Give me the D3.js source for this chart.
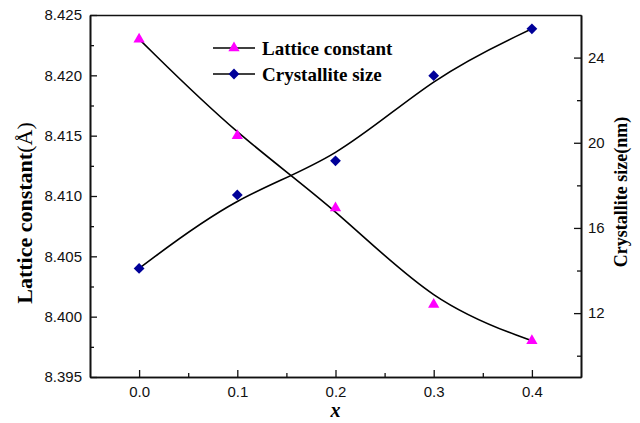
<!DOCTYPE html>
<html>
<head>
<meta charset="utf-8">
<script src="https://cdn.jsdelivr.net/npm/d3@7"></script>
<style>
  body { margin: 0; background: #fff; }
  .tick text { font-family: Arial, "Liberation Sans", sans-serif; font-size: 15px; fill: #111; }
  .axis path, .axis line { stroke: #111; }
  .serif { font-family: "Times New Roman", "Liberation Serif", serif; font-weight: bold; fill: #000; }
</style>
</head>
<body>
<div id="chart"></div>
<script>
// data
const xVals = [0.0, 0.1, 0.2, 0.3, 0.4];
const latticeConst = [8.423, 8.415, 8.409, 8.401, 8.398];
const crystalSize = [14.1, 17.55, 19.15, 23.15, 25.35];

const xTicks = [0.0, 0.1, 0.2, 0.3, 0.4];
const xMinor = [0.05, 0.15, 0.25, 0.35];
const leftTicks = [8.395, 8.400, 8.405, 8.410, 8.415, 8.420, 8.425];
const leftMinor = [8.3975, 8.4025, 8.4075, 8.4125, 8.4175, 8.4225];
const rightTicks = [12, 16, 20, 24];
const rightMinor = [10, 14, 18, 22];

const w = 640, h = 423;
const pLeft = 90, pRight = 581, pTop = 15, pBottom = 377;

const svg = d3.select("#chart").append("svg")
  .attr("width", w).attr("height", h);

// scales
const x = d3.scaleLinear().domain([-0.05, 0.45]).range([pLeft, pRight]);
const yL = d3.scaleLinear().domain([8.395, 8.425]).range([pBottom, pTop]);
const yR = d3.scaleLinear().domain([9, 26]).range([pBottom, pTop]);

// axes (ticks point inwards)
function styleAxis(g){
  g.select(".domain").attr("stroke-width", 1.6);
  g.selectAll(".tick line").attr("stroke-width", 1.3);
}

svg.append("g").attr("class", "axis")
  .attr("transform", "translate(0," + pBottom + ")")
  .call(d3.axisBottom(x).tickValues(xTicks).tickSizeInner(-7).tickSizeOuter(0)
        .tickPadding(9).tickFormat(d3.format(".1f")))
  .call(styleAxis);
svg.append("g").attr("class", "axis")
  .attr("transform", "translate(0," + pBottom + ")")
  .call(d3.axisBottom(x).tickValues(xMinor).tickSizeInner(-4).tickSizeOuter(0).tickFormat(""))
  .call(styleAxis);

svg.append("g").attr("class", "axis")
  .attr("transform", "translate(0," + pTop + ")")
  .call(d3.axisTop(x).tickValues([]).tickSizeOuter(0))
  .call(styleAxis);

svg.append("g").attr("class", "axis")
  .attr("transform", "translate(" + pLeft + ",0)")
  .call(d3.axisLeft(yL).tickValues(leftTicks).tickSizeInner(-7).tickSizeOuter(0)
        .tickPadding(8).tickFormat(d3.format(".3f")))
  .call(styleAxis);
svg.append("g").attr("class", "axis")
  .attr("transform", "translate(" + pLeft + ",0)")
  .call(d3.axisLeft(yL).tickValues(leftMinor).tickSizeInner(-4).tickSizeOuter(0).tickFormat(""))
  .call(styleAxis);

svg.append("g").attr("class", "axis")
  .attr("transform", "translate(" + pRight + ",0)")
  .call(d3.axisRight(yR).tickValues(rightTicks).tickSizeInner(-7).tickSizeOuter(0)
        .tickPadding(7).tickFormat(d3.format("d")))
  .call(styleAxis);
svg.append("g").attr("class", "axis")
  .attr("transform", "translate(" + pRight + ",0)")
  .call(d3.axisRight(yR).tickValues(rightMinor).tickSizeInner(-4).tickSizeOuter(0).tickFormat(""))
  .call(styleAxis);

// smooth curves (B-spline through the points)
const latLine = d3.line().x((d, i) => x(xVals[i])).y(d => yL(d)).curve(d3.curveBasis);
const sizeLine = d3.line().x((d, i) => x(xVals[i])).y(d => yR(d)).curve(d3.curveBasis);

svg.append("path").datum(latticeConst)
  .attr("d", latLine).attr("fill", "none").attr("stroke", "#000").attr("stroke-width", 1.6);
svg.append("path").datum(crystalSize)
  .attr("d", sizeLine).attr("fill", "none").attr("stroke", "#000").attr("stroke-width", 1.6);

const tri = d3.symbol().type(d3.symbolTriangle).size(55);
const dia = d3.symbol().type(d3.symbolSquare).size(58);

svg.selectAll(".tri").data(latticeConst).enter().append("path")
  .attr("class", "tri")
  .attr("d", tri)
  .attr("transform", (d, i) => "translate(" + x(xVals[i]) + "," + yL(d) + ")")
  .attr("fill", "#ff00ff");

svg.selectAll(".dia").data(crystalSize).enter().append("path")
  .attr("class", "dia")
  .attr("d", dia)
  .attr("transform", (d, i) => "translate(" + x(xVals[i]) + "," + yR(d) + ") rotate(45)")
  .attr("fill", "#000099");

// legend
const legend = svg.append("g");
const legRows = [
  {label: "Lattice constant", sym: tri, color: "#ff00ff", y: 48, rot: ""},
  {label: "Crystallite size", sym: dia, color: "#000099", y: 74, rot: " rotate(45)"}
];
legRows.forEach(r => {
  legend.append("line").attr("x1", 213).attr("x2", 255).attr("y1", r.y).attr("y2", r.y)
    .attr("stroke", "#000").attr("stroke-width", 1.6);
  legend.append("path").attr("d", r.sym)
    .attr("transform", "translate(234," + r.y + ")" + r.rot)
    .attr("fill", r.color);
  legend.append("text").attr("class", "serif")
    .attr("x", 262).attr("y", r.y + 7)
    .style("font-size", "19px")
    .text(r.label);
});

// axis titles
svg.append("text").attr("class", "serif")
  .attr("x", (pLeft + pRight) / 2).attr("y", 417)
  .attr("text-anchor", "middle")
  .style("font-size", "20px").style("font-style", "italic")
  .text("x");

const lt = svg.append("text").attr("class", "serif")
  .attr("transform", "translate(32,213) rotate(-90)")
  .attr("text-anchor", "middle")
  .style("font-size", "22px");
lt.append("tspan").text("Lattice constant");
lt.append("tspan").style("font-weight", "normal").text("(Å)");

svg.append("text").attr("class", "serif")
  .attr("transform", "translate(627,192) rotate(-90)")
  .attr("text-anchor", "middle")
  .style("font-size", "18px")
  .text("Crystallite size(nm)");
</script>
</body>
</html>
